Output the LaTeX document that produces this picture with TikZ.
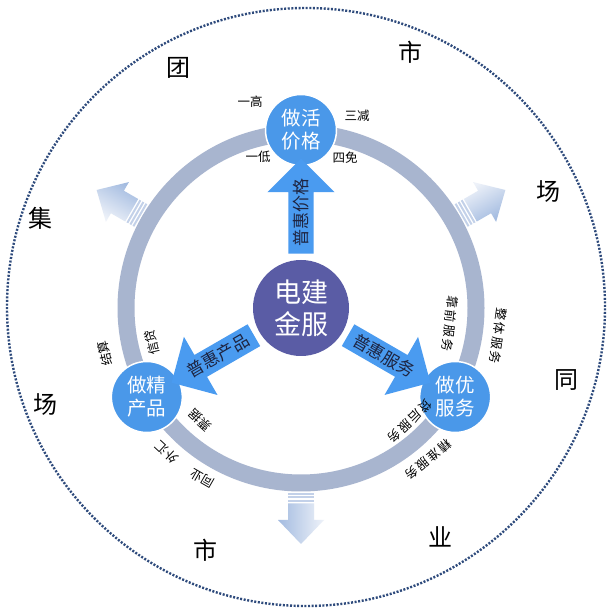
\documentclass[tikz,border=0pt]{standalone}
\usepackage{fontspec}
\setmainfont{Noto Sans CJK SC}
\usetikzlibrary{calc,shapes.arrows}
\definecolor{ringc}{HTML}{A8B5CF}
\definecolor{satc}{HTML}{4A98E9}
\definecolor{hubc}{HTML}{5A5CA5}
\definecolor{arrc}{HTML}{4A9BF0}
\definecolor{navy}{HTML}{2E4A7C}
\definecolor{outl}{HTML}{A3BBE0}
\definecolor{outd}{HTML}{EEF2F9}
\definecolor{stripec}{HTML}{C3D1E9}
\definecolor{txtc}{HTML}{1E2440}
\begin{document}
\begin{tikzpicture}[x=1pt,y=1pt,
  sat/.style={circle, fill=satc, draw=white, line width=1.5pt, minimum size=71pt, inner sep=0pt, text=white, font=\fontsize{19.5}{23}\selectfont, align=center},
  hub/.style={circle, fill=hubc, minimum size=96pt, inner sep=0pt, text=white, font=\fontsize{27}{32}\selectfont, align=center},
  bigarrow/.style={single arrow, fill=arrc, inner sep=4.5pt, single arrow head extend=21pt, minimum height=95pt, text=txtc, font=\fontsize{17}{20}\selectfont},
  small/.style={font=\fontsize{12.5}{14}\selectfont, inner sep=0pt},
  big/.style={font=\fontsize{24}{28}\selectfont, inner sep=0pt},
]
\useasboundingbox (0,0) rectangle (612,613);
\fill[white] (0,0) rectangle (612,613);
\coordinate (C) at (301,305);
\draw[navy, line width=2.4pt, dash pattern=on 2pt off 1.6pt] (306,306) circle (299);
% outward striped arrows
\foreach \a in {150,30,270}{
  \foreach \s in {185,188.5,192}{
    \fill[stripec] ($(C)+(\a:\s)+(\a+90:13)$) -- ($(C)+(\a:\s+2)+(\a+90:13)$) -- ($(C)+(\a:\s+2)+(\a-90:13)$) -- ($(C)+(\a:\s)+(\a-90:13)$) -- cycle;
  }
  \shade[left color=outd, right color=outl, shading angle=\a] ($(C)+(\a:195.5)+(\a+90:13)$) -- ($(C)+(\a:212)+(\a+90:13)$) -- ($(C)+(\a:212)+(\a+90:23)$) -- ($(C)+(\a:236)$) -- ($(C)+(\a:212)+(\a-90:23)$) -- ($(C)+(\a:212)+(\a-90:13)$) -- ($(C)+(\a:195.5)+(\a-90:13)$) -- cycle;
}
% ring
\draw[ringc, line width=17pt] (C) circle (175);
% nodes
\node[hub] (hub) at (C) {电建\\金服};
\node[sat] (price) at ($(C)+(90:178)$) {做活\\价格};
\node[sat] (prod) at ($(C)+(210:178)$) {做精\\产品};
\node[sat] (serv) at ($(C)+(330:178)$) {做优\\服务};
% big arrows
\node[bigarrow, rotate=90] (a1) at ($(hub)!0.537!(price)$) {普惠价格};
\node[bigarrow, rotate=30, shape border rotate=180] (a2) at ($(hub)!0.537!(prod)$) {普惠产品};
\node[bigarrow, rotate=-30] (a3) at ($(hub)!0.537!(serv)$) {普惠服务};
% small labels
\node[small] (l1) at (250,511) {一高};
\node[small] (l2) at (357,497) {三减};
\node[small] (l3) at (258,456) {一低};
\node[small] (l4) at (345,455) {四免};
\node[small, rotate=103] (l5) at ($(C)+(193:201)$) {结算};
\node[small, rotate=103] (l6) at ($(C)+(193:153)$) {信贷};
\node[small, rotate=138] (l7) at ($(C)+(228:151)$) {票据};
\node[small, rotate=137] (l8) at ($(C)+(227:197)$) {外汇};
\node[small, rotate=150] (l9) at ($(C)+(240:197)$) {同业};
\node[small, rotate=-96] (l10) at ($(C)+(-6:150)$) {靠\kern2pt 前\kern2pt 服\kern2pt 务};
\node[small, rotate=-98] (l11) at ($(C)+(-8:199)$) {整\kern2pt 体\kern2pt 服\kern2pt 务};
\node[small, rotate=-136] (l12) at ($(C)+(-46:157)$) {贷\kern2pt 后\kern2pt 服\kern2pt 务};
\node[small, rotate=-140] (l13) at ($(C)+(-50:198)$) {精\kern2pt 准\kern2pt 服\kern2pt 务};
% big characters
\node[big] (b1) at (178,545) {团};
\node[big] (b2) at (410,561) {市};
\node[big] (b3) at (40,395) {集};
\node[big] (b4) at (548,421) {场};
\node[big] (b5) at (45,208) {场};
\node[big] (b6) at (566,233) {同};
\node[big] (b7) at (205,63) {市};
\node[big] (b8) at (440,76) {业};
\end{tikzpicture}
\end{document}
